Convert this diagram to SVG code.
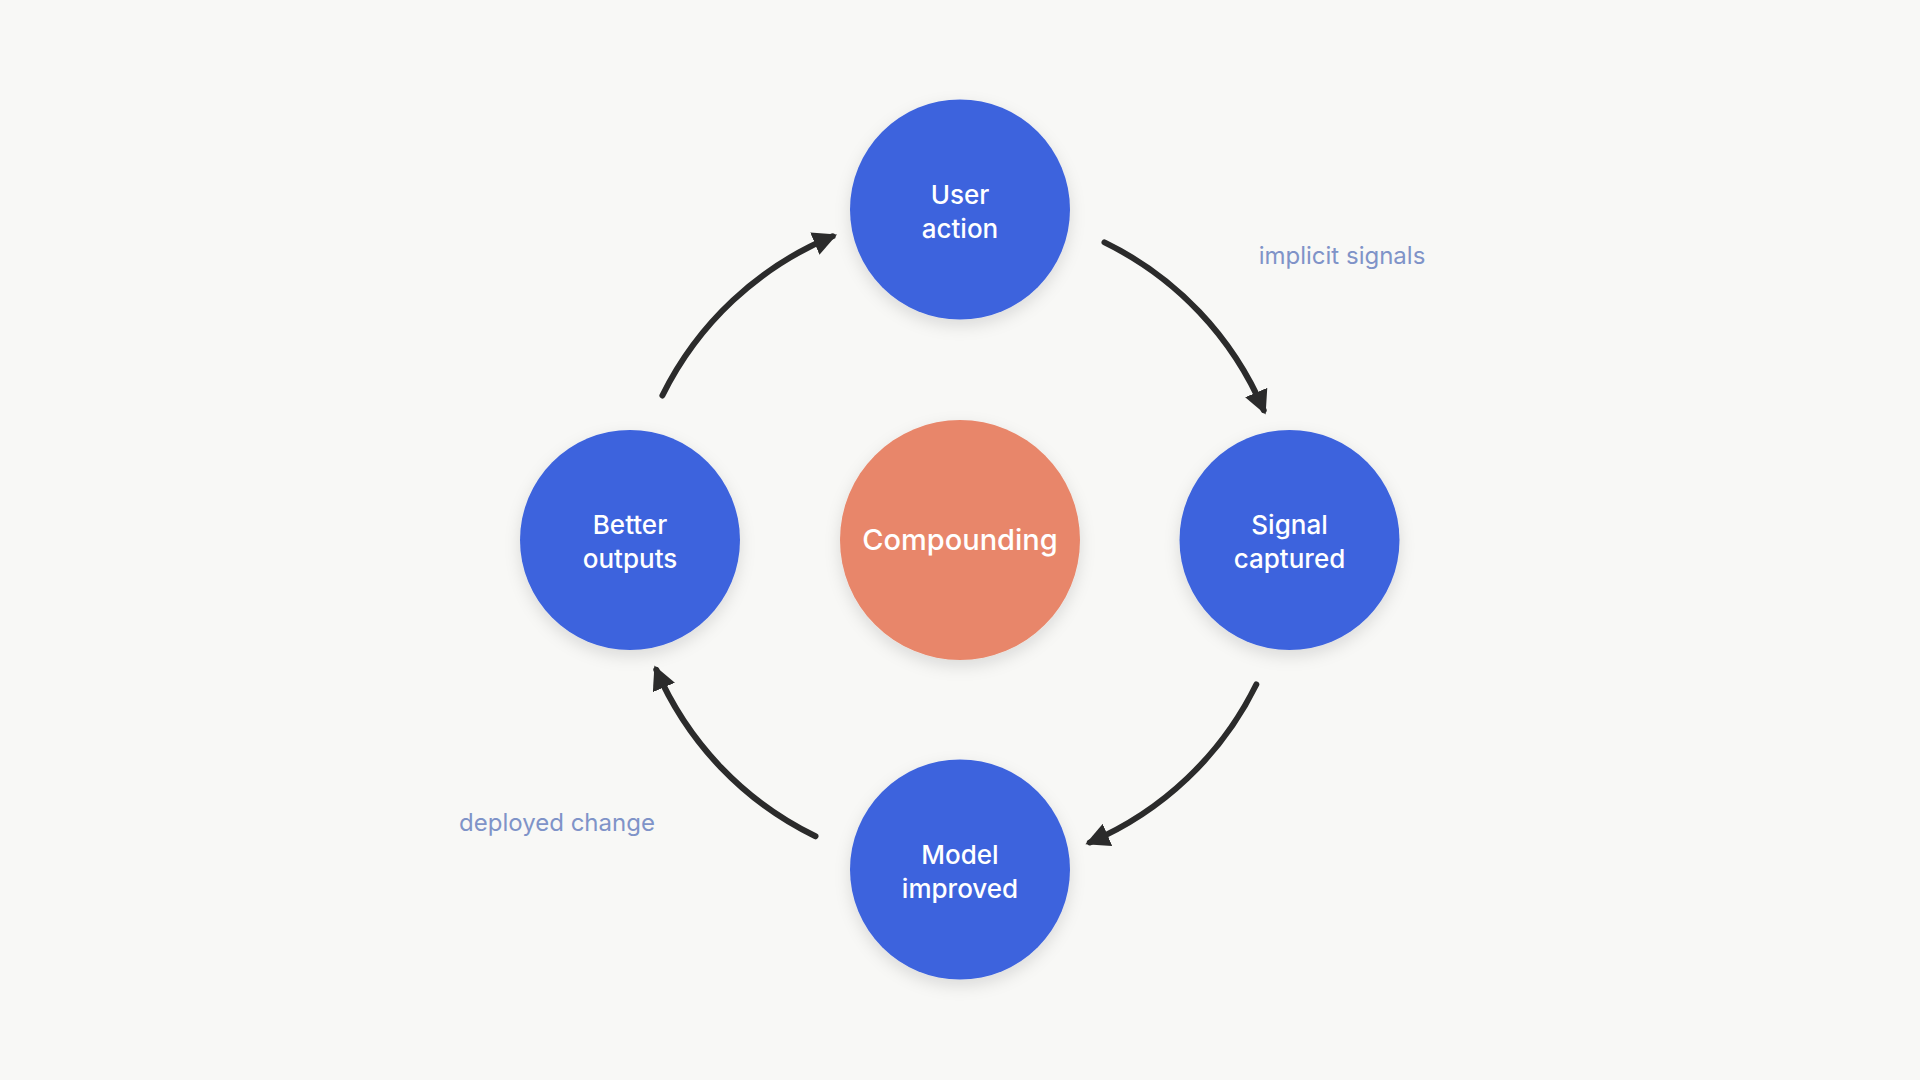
<svg xmlns="http://www.w3.org/2000/svg" width="1920" height="1080" viewBox="0 0 1920 1080">
<style>
.n{fill:#3d63dd}
.t{font-family:Inter,"Liberation Sans",sans-serif;font-size:26px;fill:#fff;text-anchor:middle;font-weight:500}
.c{fill:none;stroke:#2b2b2b;stroke-width:6;stroke-linecap:round}
.l{font-family:Inter,"Liberation Sans",sans-serif;font-size:24px;fill:#7f93c8;text-anchor:middle}
</style>
<defs>
<marker id="a" viewBox="0 0 10 10" refX="8" refY="5" markerWidth="4" markerHeight="4" orient="auto" markerUnits="strokeWidth"><path d="M0,0 L10,5 L0,10 z" fill="#2b2b2b"/></marker>
<filter id="s" x="-20%" y="-20%" width="140%" height="150%"><feDropShadow dx="0" dy="6" stdDeviation="8" flood-color="#000" flood-opacity="0.12"/></filter>
</defs>
<rect width="1920" height="1080" fill="#f8f8f6"/>
<g id="connectors">
<path class="c" d="M1104.5,242.4 A330,330 0 0 1 1263.7,410.2" marker-end="url(#a)"/>
<path class="c" d="M1256.3,684.5 A330,330 0 0 1 1089.8,842.4" marker-end="url(#a)"/>
<path class="c" d="M815.5,836.3 A330,330 0 0 1 656.3,669.8" marker-end="url(#a)"/>
<path class="c" d="M662.4,395.5 A330,330 0 0 1 832.6,236.3" marker-end="url(#a)"/>
</g>
<text class="l" x="1342" y="264">implicit signals</text>
<text class="l" x="557" y="831">deployed change</text>
<g id="user"><circle class="n" cx="960" cy="209.5" r="110" filter="url(#s)"/><text class="t" x="960" y="204">User</text><text class="t" x="960" y="238">action</text></g>
<g id="signal"><circle class="n" cx="1289.5" cy="540" r="110" filter="url(#s)"/><text class="t" x="1289.5" y="534">Signal</text><text class="t" x="1289.5" y="568">captured</text></g>
<g id="model"><circle class="n" cx="960" cy="869.5" r="110" filter="url(#s)"/><text class="t" x="960" y="864">Model</text><text class="t" x="960" y="898">improved</text></g>
<g id="better"><circle class="n" cx="630" cy="540" r="110" filter="url(#s)"/><text class="t" x="630" y="534">Better</text><text class="t" x="630" y="568">outputs</text></g>
<g id="compounding"><circle cx="960" cy="540" r="120" fill="#e8866a" filter="url(#s)"/><text class="t" x="960" y="550" style="font-size:29px">Compounding</text></g>
</svg>
